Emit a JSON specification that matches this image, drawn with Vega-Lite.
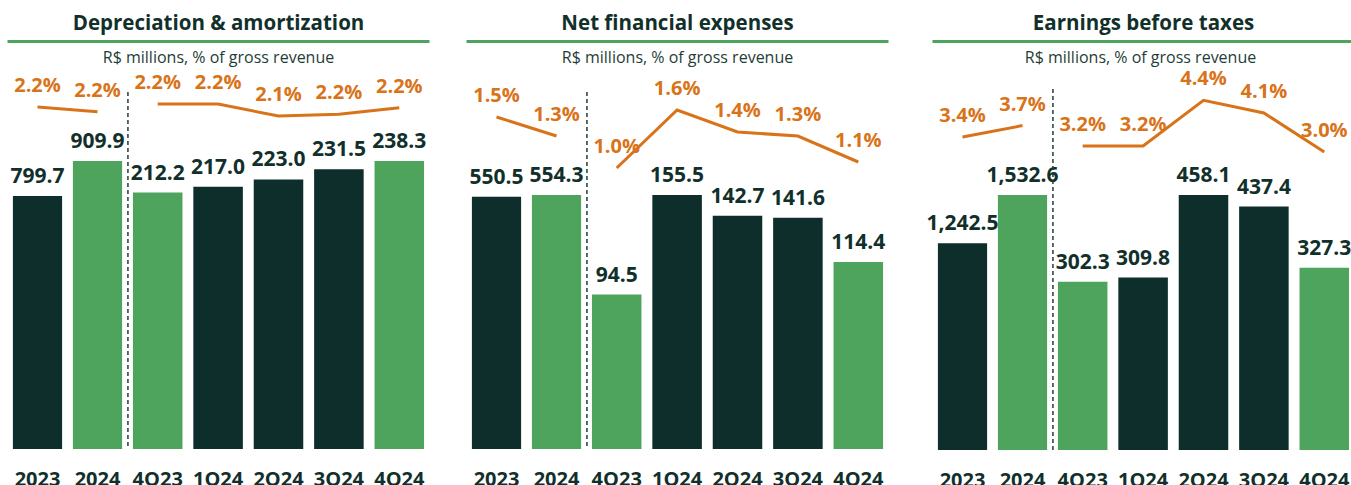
{
  "$schema": "https://vega.github.io/schema/vega-lite/v6.json",
  "padding": {"left": 7.5, "top": 14, "right": 0, "bottom": 0},
  "autosize": {"type": "pad"},
  "background": "white",
  "datasets": {
    "rows": [
      {"metric": "da", "group": "A", "period": "2023", "value": 799.7, "pct": 0.0224},
      {"metric": "da", "group": "A", "period": "2024", "value": 909.9, "pct": 0.0220},
      {"metric": "da", "group": "Q", "period": "4Q23", "value": 212.2, "pct": 0.0224},
      {"metric": "da", "group": "Q", "period": "1Q24", "value": 217.0, "pct": 0.0224},
      {"metric": "da", "group": "Q", "period": "2Q24", "value": 223.0, "pct": 0.0214},
      {"metric": "da", "group": "Q", "period": "3Q24", "value": 231.5, "pct": 0.02155},
      {"metric": "da", "group": "Q", "period": "4Q24", "value": 238.3, "pct": 0.0221},
      {"metric": "nf", "group": "A", "period": "2023", "value": 550.5, "pct": 0.0150},
      {"metric": "nf", "group": "A", "period": "2024", "value": 554.3, "pct": 0.0131},
      {"metric": "nf", "group": "Q", "period": "4Q23", "value": 94.5, "pct": 0.0102},
      {"metric": "nf", "group": "Q", "period": "1Q24", "value": 155.5, "pct": 0.0160},
      {"metric": "nf", "group": "Q", "period": "2Q24", "value": 142.7, "pct": 0.0138},
      {"metric": "nf", "group": "Q", "period": "3Q24", "value": 141.6, "pct": 0.0134},
      {"metric": "nf", "group": "Q", "period": "4Q24", "value": 114.4, "pct": 0.0108},
      {"metric": "ebt", "group": "A", "period": "2023", "value": 1242.5, "pct": 0.0340},
      {"metric": "ebt", "group": "A", "period": "2024", "value": 1532.6, "pct": 0.0370},
      {"metric": "ebt", "group": "Q", "period": "4Q23", "value": 302.3, "pct": 0.0320},
      {"metric": "ebt", "group": "Q", "period": "1Q24", "value": 309.8, "pct": 0.0320},
      {"metric": "ebt", "group": "Q", "period": "2Q24", "value": 458.1, "pct": 0.0440},
      {"metric": "ebt", "group": "Q", "period": "3Q24", "value": 437.4, "pct": 0.0407},
      {"metric": "ebt", "group": "Q", "period": "4Q24", "value": 327.3, "pct": 0.0304}
    ]
  },
  "spacing": 37,
  "resolve": {"scale": {"x": "independent", "y": "independent"}},
  "hconcat": [
    {
      "spacing": 3,
      "resolve": {"scale": {"x": "independent", "y": "independent"}},
      "vconcat": [
        {
          "width": 422, "height": 3,
          "view": {"fill": "#4ea35d", "stroke": null},
          "title": "Depreciation & amortization",
          "data": {"values": [{}]},
          "mark": "text",
          "encoding": {"text": {"value": ""}}
        },
        {
          "title": {"text": "R$ millions, % of gross revenue", "fontSize": 16, "fontWeight": "normal", "color": "#1f3d37", "offset": 3},
          "spacing": 0,
          "bounds": "flush",
          "resolve": {"scale": {"x": "independent", "y": "independent"}},
          "hconcat": [
            {
              "width": 120, "height": 380,
              "data": {"name": "rows"},
              "transform": [{"filter": "datum.metric == 'da' && datum.group == 'A'"}],
              "resolve": {"scale": {"y": "independent"}},
              "layer": [
                {"mark": {"type": "bar"}, "encoding": {
                  "x": {"field": "period", "type": "nominal", "sort": null, "title": null, "scale": {"paddingInner": 0.18, "paddingOuter": 0.09}},
                  "y": {"field": "value", "type": "quantitative", "scale": {"domain": [0, 1200.6], "nice": false}, "axis": null},
                  "color": {"condition": {"test": "indexof(['2024','4Q23','4Q24'], datum.period) >= 0", "value": "#4ea35d"}, "value": "#0d2e2a"}}},
                {"mark": {"type": "text", "baseline": "middle", "dy": -19, "fontSize": 21, "fontWeight": "bold", "color": "#12302b"}, "encoding": {
                  "x": {"field": "period", "type": "nominal", "sort": null, "title": null},
                  "y": {"field": "value", "type": "quantitative", "scale": {"domain": [0, 1200.6], "nice": false}, "axis": null},
                  "text": {"field": "value", "type": "quantitative", "format": ",.1f"}}},
                {"mark": {"type": "line", "color": "#d9731a", "strokeWidth": 3}, "encoding": {
                  "x": {"field": "period", "type": "nominal", "sort": null, "title": null},
                  "y": {"field": "pct", "type": "quantitative", "scale": {"domain": [-0.0061, 0.02557], "nice": false, "zero": false}, "axis": null},
                  "order": {"value": null}}},
                {"mark": {"type": "text", "baseline": "middle", "dy": -21, "fontSize": 20, "fontWeight": "bold", "color": "#d9731a"}, "encoding": {
                  "x": {"field": "period", "type": "nominal", "sort": null, "title": null},
                  "y": {"field": "pct", "type": "quantitative", "scale": {"domain": [-0.0061, 0.02557], "nice": false, "zero": false}, "axis": null},
                  "text": {"field": "pct", "type": "quantitative", "format": ".1%"}}}
              ]
            },
            {
              "width": 302, "height": 380,
              "data": {"name": "rows"},
              "transform": [{"filter": "datum.metric == 'da' && datum.group == 'Q'"}],
              "resolve": {"scale": {"y": "independent"}},
              "layer": [
                {"mark": {"type": "bar"}, "encoding": {
                  "x": {"field": "period", "type": "nominal", "sort": null, "title": null, "scale": {"paddingInner": 0.18, "paddingOuter": 0.09}},
                  "y": {"field": "value", "type": "quantitative", "scale": {"domain": [0, 314.4], "nice": false}, "axis": null},
                  "color": {"condition": {"test": "indexof(['2024','4Q23','4Q24'], datum.period) >= 0", "value": "#4ea35d"}, "value": "#0d2e2a"}}},
                {"mark": {"type": "text", "baseline": "middle", "dy": -19, "fontSize": 21, "fontWeight": "bold", "color": "#12302b"}, "encoding": {
                  "x": {"field": "period", "type": "nominal", "sort": null, "title": null},
                  "y": {"field": "value", "type": "quantitative", "scale": {"domain": [0, 314.4], "nice": false}, "axis": null},
                  "text": {"field": "value", "type": "quantitative", "format": ",.1f"}}},
                {"transform": [{"filter": "datum.period == '4Q23'"}],
                 "mark": {"type": "rule", "strokeDash": [4, 3], "strokeWidth": 1.5, "color": "#1f3d37", "xOffset": -5},
                 "encoding": {
                  "x": {"field": "period", "type": "nominal", "sort": null, "title": null, "bandPosition": 0},
                  "y": {"datum": 295.4, "type": "quantitative", "scale": {"domain": [0, 314.4], "nice": false}, "axis": null},
                  "y2": {"datum": 0}}},
                {"mark": {"type": "line", "color": "#d9731a", "strokeWidth": 3}, "encoding": {
                  "x": {"field": "period", "type": "nominal", "sort": null, "title": null},
                  "y": {"field": "pct", "type": "quantitative", "scale": {"domain": [-0.00635, 0.02532], "nice": false, "zero": false}, "axis": null},
                  "order": {"value": null}}},
                {"mark": {"type": "text", "baseline": "middle", "dy": -21, "fontSize": 20, "fontWeight": "bold", "color": "#d9731a"}, "encoding": {
                  "x": {"field": "period", "type": "nominal", "sort": null, "title": null},
                  "y": {"field": "pct", "type": "quantitative", "scale": {"domain": [-0.00635, 0.02532], "nice": false, "zero": false}, "axis": null},
                  "text": {"field": "pct", "type": "quantitative", "format": ".1%"}}}
              ]
            }
          ]
        }
      ]
    },
    {
      "spacing": 3,
      "resolve": {"scale": {"x": "independent", "y": "independent"}},
      "vconcat": [
        {
          "width": 422, "height": 3,
          "view": {"fill": "#4ea35d", "stroke": null},
          "title": "Net financial expenses",
          "data": {"values": [{}]},
          "mark": "text",
          "encoding": {"text": {"value": ""}}
        },
        {
          "title": {"text": "R$ millions, % of gross revenue", "fontSize": 16, "fontWeight": "normal", "color": "#1f3d37", "offset": 3},
          "spacing": 0,
          "bounds": "flush",
          "resolve": {"scale": {"x": "independent", "y": "independent"}},
          "hconcat": [
            {
              "width": 120, "height": 380,
              "data": {"name": "rows"},
              "transform": [{"filter": "datum.metric == 'nf' && datum.group == 'A'"}],
              "resolve": {"scale": {"y": "independent"}},
              "layer": [
                {"mark": {"type": "bar"}, "encoding": {
                  "x": {"field": "period", "type": "nominal", "sort": null, "title": null, "scale": {"paddingInner": 0.18, "paddingOuter": 0.09}},
                  "y": {"field": "value", "type": "quantitative", "scale": {"domain": [0, 829.3], "nice": false}, "axis": null},
                  "color": {"condition": {"test": "indexof(['2024','4Q23','4Q24'], datum.period) >= 0", "value": "#4ea35d"}, "value": "#0d2e2a"}}},
                {"mark": {"type": "text", "baseline": "middle", "dy": -19, "fontSize": 21, "fontWeight": "bold", "color": "#12302b"}, "encoding": {
                  "x": {"field": "period", "type": "nominal", "sort": null, "title": null},
                  "y": {"field": "value", "type": "quantitative", "scale": {"domain": [0, 829.3], "nice": false}, "axis": null},
                  "text": {"field": "value", "type": "quantitative", "format": ",.1f"}}},
                {"mark": {"type": "line", "color": "#d9731a", "strokeWidth": 3}, "encoding": {
                  "x": {"field": "period", "type": "nominal", "sort": null, "title": null},
                  "y": {"field": "pct", "type": "quantitative", "scale": {"domain": [-0.0182, 0.0198], "nice": false, "zero": false}, "axis": null},
                  "order": {"value": null}}},
                {"mark": {"type": "text", "baseline": "middle", "dy": -21, "fontSize": 20, "fontWeight": "bold", "color": "#d9731a"}, "encoding": {
                  "x": {"field": "period", "type": "nominal", "sort": null, "title": null},
                  "y": {"field": "pct", "type": "quantitative", "scale": {"domain": [-0.0182, 0.0198], "nice": false, "zero": false}, "axis": null},
                  "text": {"field": "pct", "type": "quantitative", "format": ".1%"}}}
              ]
            },
            {
              "width": 302, "height": 380,
              "data": {"name": "rows"},
              "transform": [{"filter": "datum.metric == 'nf' && datum.group == 'Q'"}],
              "resolve": {"scale": {"y": "independent"}},
              "layer": [
                {"mark": {"type": "bar"}, "encoding": {
                  "x": {"field": "period", "type": "nominal", "sort": null, "title": null, "scale": {"paddingInner": 0.18, "paddingOuter": 0.09}},
                  "y": {"field": "value", "type": "quantitative", "scale": {"domain": [0, 232.6], "nice": false}, "axis": null},
                  "color": {"condition": {"test": "indexof(['2024','4Q23','4Q24'], datum.period) >= 0", "value": "#4ea35d"}, "value": "#0d2e2a"}}},
                {"mark": {"type": "text", "baseline": "middle", "dy": -19, "fontSize": 21, "fontWeight": "bold", "color": "#12302b"}, "encoding": {
                  "x": {"field": "period", "type": "nominal", "sort": null, "title": null},
                  "y": {"field": "value", "type": "quantitative", "scale": {"domain": [0, 232.6], "nice": false}, "axis": null},
                  "text": {"field": "value", "type": "quantitative", "format": ",.1f"}}},
                {"transform": [{"filter": "datum.period == '4Q23'"}],
                 "mark": {"type": "rule", "strokeDash": [4, 3], "strokeWidth": 1.5, "color": "#1f3d37", "xOffset": -5},
                 "encoding": {
                  "x": {"field": "period", "type": "nominal", "sort": null, "title": null, "bandPosition": 0},
                  "y": {"datum": 218.5, "type": "quantitative", "scale": {"domain": [0, 232.6], "nice": false}, "axis": null},
                  "y2": {"datum": 0}}},
                {"mark": {"type": "line", "color": "#d9731a", "strokeWidth": 3}, "encoding": {
                  "x": {"field": "period", "type": "nominal", "sort": null, "title": null},
                  "y": {"field": "pct", "type": "quantitative", "scale": {"domain": [-0.0179, 0.0201], "nice": false, "zero": false}, "axis": null},
                  "order": {"value": null}}},
                {"mark": {"type": "text", "baseline": "middle", "dy": -21, "fontSize": 20, "fontWeight": "bold", "color": "#d9731a"}, "encoding": {
                  "x": {"field": "period", "type": "nominal", "sort": null, "title": null},
                  "y": {"field": "pct", "type": "quantitative", "scale": {"domain": [-0.0179, 0.0201], "nice": false, "zero": false}, "axis": null},
                  "text": {"field": "pct", "type": "quantitative", "format": ".1%"}}}
              ]
            }
          ]
        }
      ]
    },
    {
      "spacing": 3,
      "resolve": {"scale": {"x": "independent", "y": "independent"}},
      "vconcat": [
        {
          "width": 422, "height": 3,
          "view": {"fill": "#4ea35d", "stroke": null},
          "title": "Earnings before taxes",
          "data": {"values": [{}]},
          "mark": "text",
          "encoding": {"text": {"value": ""}}
        },
        {
          "title": {"text": "R$ millions, % of gross revenue", "fontSize": 16, "fontWeight": "normal", "color": "#1f3d37", "offset": 3},
          "spacing": 0,
          "bounds": "flush",
          "resolve": {"scale": {"x": "independent", "y": "independent"}},
          "hconcat": [
            {
              "width": 120, "height": 380,
              "data": {"name": "rows"},
              "transform": [{"filter": "datum.metric == 'ebt' && datum.group == 'A'"}],
              "resolve": {"scale": {"y": "independent"}},
              "layer": [
                {"mark": {"type": "bar"}, "encoding": {
                  "x": {"field": "period", "type": "nominal", "sort": null, "title": null, "scale": {"paddingInner": 0.18, "paddingOuter": 0.09}},
                  "y": {"field": "value", "type": "quantitative", "scale": {"domain": [0, 2283.9], "nice": false}, "axis": null},
                  "color": {"condition": {"test": "indexof(['2024','4Q23','4Q24'], datum.period) >= 0", "value": "#4ea35d"}, "value": "#0d2e2a"}}},
                {"mark": {"type": "text", "baseline": "middle", "dy": -19, "fontSize": 21, "fontWeight": "bold", "color": "#12302b"}, "encoding": {
                  "x": {"field": "period", "type": "nominal", "sort": null, "title": null},
                  "y": {"field": "value", "type": "quantitative", "scale": {"domain": [0, 2283.9], "nice": false}, "axis": null},
                  "text": {"field": "value", "type": "quantitative", "format": ",.1f"}}},
                {"mark": {"type": "line", "color": "#d9731a", "strokeWidth": 3}, "encoding": {
                  "x": {"field": "period", "type": "nominal", "sort": null, "title": null},
                  "y": {"field": "pct", "type": "quantitative", "scale": {"domain": [-0.04837, 0.05163], "nice": false, "zero": false}, "axis": null},
                  "order": {"value": null}}},
                {"mark": {"type": "text", "baseline": "middle", "dy": -21, "fontSize": 20, "fontWeight": "bold", "color": "#d9731a"}, "encoding": {
                  "x": {"field": "period", "type": "nominal", "sort": null, "title": null},
                  "y": {"field": "pct", "type": "quantitative", "scale": {"domain": [-0.04837, 0.05163], "nice": false, "zero": false}, "axis": null},
                  "text": {"field": "pct", "type": "quantitative", "format": ".1%"}}}
              ]
            },
            {
              "width": 302, "height": 380,
              "data": {"name": "rows"},
              "transform": [{"filter": "datum.metric == 'ebt' && datum.group == 'Q'"}],
              "resolve": {"scale": {"y": "independent"}},
              "layer": [
                {"mark": {"type": "bar"}, "encoding": {
                  "x": {"field": "period", "type": "nominal", "sort": null, "title": null, "scale": {"paddingInner": 0.18, "paddingOuter": 0.09}},
                  "y": {"field": "value", "type": "quantitative", "scale": {"domain": [0, 682.7], "nice": false}, "axis": null},
                  "color": {"condition": {"test": "indexof(['2024','4Q23','4Q24'], datum.period) >= 0", "value": "#4ea35d"}, "value": "#0d2e2a"}}},
                {"mark": {"type": "text", "baseline": "middle", "dy": -19, "fontSize": 21, "fontWeight": "bold", "color": "#12302b"}, "encoding": {
                  "x": {"field": "period", "type": "nominal", "sort": null, "title": null},
                  "y": {"field": "value", "type": "quantitative", "scale": {"domain": [0, 682.7], "nice": false}, "axis": null},
                  "text": {"field": "value", "type": "quantitative", "format": ",.1f"}}},
                {"transform": [{"filter": "datum.period == '4Q23'"}],
                 "mark": {"type": "rule", "strokeDash": [4, 3], "strokeWidth": 1.5, "color": "#1f3d37", "xOffset": -5},
                 "encoding": {
                  "x": {"field": "period", "type": "nominal", "sort": null, "title": null, "bandPosition": 0},
                  "y": {"datum": 648.6, "type": "quantitative", "scale": {"domain": [0, 682.7], "nice": false}, "axis": null},
                  "y2": {"datum": 0}}},
                {"mark": {"type": "line", "color": "#d9731a", "strokeWidth": 3}, "encoding": {
                  "x": {"field": "period", "type": "nominal", "sort": null, "title": null},
                  "y": {"field": "pct", "type": "quantitative", "scale": {"domain": [-0.048, 0.052], "nice": false, "zero": false}, "axis": null},
                  "order": {"value": null}}},
                {"mark": {"type": "text", "baseline": "middle", "dy": -21, "fontSize": 20, "fontWeight": "bold", "color": "#d9731a"}, "encoding": {
                  "x": {"field": "period", "type": "nominal", "sort": null, "title": null},
                  "y": {"field": "pct", "type": "quantitative", "scale": {"domain": [-0.048, 0.052], "nice": false, "zero": false}, "axis": null},
                  "text": {"field": "pct", "type": "quantitative", "format": ".1%"}}}
              ]
            }
          ]
        }
      ]
    }
  ],
  "config": {
    "font": "Open Sans",
    "view": {"stroke": null},
    "title": {"fontSize": 20.5, "fontWeight": "bold", "color": "#12302b", "anchor": "middle", "offset": 1},
    "axisX": {"domain": false, "ticks": false, "grid": false, "labelFontSize": 20, "labelFontWeight": "bold", "labelColor": "#12302b", "labelPadding": 20, "labelAngle": 0}
  }
}
